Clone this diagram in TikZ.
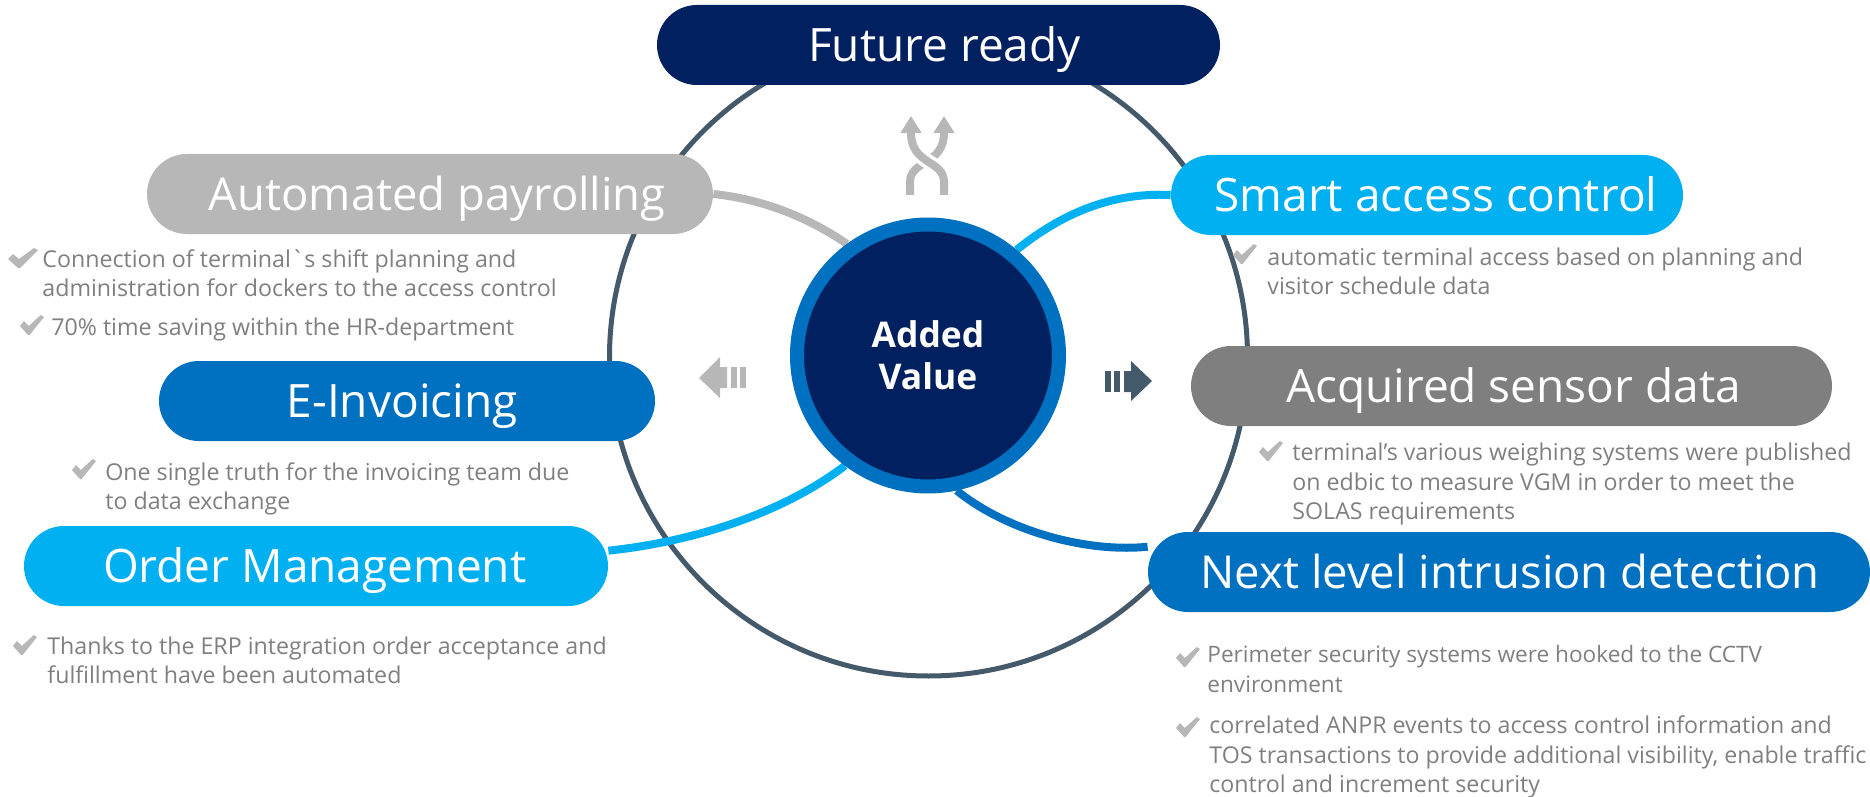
\documentclass[tikz,border=0pt]{standalone}
\usepackage{fontspec}
\setmainfont{Open Sans}
\usetikzlibrary{arrows.meta,backgrounds}
\definecolor{navyblue}{HTML}{002060}
\definecolor{midblue}{HTML}{0070C0}
\definecolor{skyblue}{HTML}{00B0F0}
\definecolor{lightgrey}{HTML}{B7B7B7}
\definecolor{midgrey}{HTML}{7F7F7F}
\definecolor{slategrey}{HTML}{44596A}
% pill title: #1 sideways shift, baseline fixed below the pill's middle
\newcommand{\pillname}[2]{\hspace*{#1}\raisebox{-8.2pt}[0pt][0pt]{#2}\hspace*{-#1}}
\tikzset{
	pill/.style={rectangle,rounded corners=20pt,minimum height=40pt,inner sep=0pt,text=white,text height=0pt,text depth=0pt,font=\fontsize{23}{27}\selectfont},
	note/.style={anchor=west,align=left,inner sep=0pt,text=midgrey,font=\fontsize{11.6}{14.6}\selectfont},
	link/.style={line width=4pt},
	tickmark/.pic={\fill[lightgrey] (-15,1)--(-10,-4)--(-4,1)--(11,-10)--(15,-8)--(-3,10)--(-5,10)--cycle;}
}
\begin{document}
\begin{tikzpicture}[x=0.5pt,y=-0.5pt,line join=miter,>=stealth]
	\useasboundingbox (0,0) rectangle (1870,797);
	% pills
	\node[pill,fill=navyblue,minimum width=281.5pt] (future) at (938.5,45) {\pillname{3pt}{Future ready}};
	\node[pill,fill=lightgrey,minimum width=283pt,font=\fontsize{22.7}{27}\selectfont] (payroll) at (430,194) {\pillname{3.6pt}{Automated payrolling}};
	\node[pill,fill=skyblue,minimum width=256pt] (smart) at (1427,195) {\pillname{4.5pt}{Smart access control}};
	\node[pill,fill=midblue,minimum width=248pt] (invoice) at (407,401) {\pillname{-2.4pt}{E-Invoicing}};
	\node[pill,fill=midgrey,minimum width=320.5pt] (sensor) at (1511.5,386) {\pillname{1pt}{Acquired sensor data}};
	\node[pill,fill=skyblue,minimum width=292pt] (order) at (316,566) {\pillname{-0.6pt}{Order Management}};
	\node[pill,fill=midblue,minimum width=361pt,font=\fontsize{22.7}{27}\selectfont] (intrusion) at (1509,572) {\pillname{0.6pt}{Next level intrusion detection}};
	% centre
	\node[circle,draw=midblue,fill=navyblue,line width=7pt,minimum size=131pt,inner sep=0pt,align=center,text=white,font=\bfseries\fontsize{17.7}{21}\selectfont] (core) at (928,355.5) {Added\\Value};
	\begin{scope}[on background layer]
		\node[circle,draw=slategrey,line width=2.5pt,minimum size=319pt,inner sep=0pt] (ring) at (928.5,357) {};
		\draw[link,lightgrey] (payroll.east) .. controls (770,200) and (815,222) .. (core.126);
		\draw[link,skyblue] (smart.west) .. controls (1110,192) and (1060,215) .. (core.50);
		\draw[link,skyblue] (order.3.5) .. controls (690,542) and (780,515) .. (core.233);
		\draw[link,midblue] (intrusion.176) .. controls (1085,553) and (1005,530) .. (core.282);
	\end{scope}
	% notes
	\pic at (23,258) {tickmark};
	\node[note] (notepayrolla) at (42,273) {Connection of terminal\textasciigrave s shift planning and\\administration for dockers to the access control};
	\pic[xscale=.8] at (32,325) {tickmark};
	\node[note] (notepayrollb) at (51,329) {70\% time saving within the HR-department};
	\pic[xscale=.8] at (1245,254) {tickmark};
	\node[note] (notesmart) at (1267,271) {automatic terminal access based on planning and\\visitor schedule data};
	\pic[xscale=.8] at (84,469) {tickmark};
	\node[note] (noteinvoice) at (105,489) {One single truth for the invoicing team due\\to data exchange};
	\pic[xscale=.8] at (1271,451) {tickmark};
	\node[note] (notesensor) at (1292,484) {terminal’s various weighing systems were published\\on edbic to measure VGM in order to meet the\\SOLAS requirements};
	\pic[xscale=.8] at (25,645) {tickmark};
	\node[note] (noteorder) at (47,660) {Thanks to the ERP integration order acceptance and\\fulfillment have been automated};
	\pic[xscale=.8] at (1188,657) {tickmark};
	\node[note,font=\fontsize{11.3}{14.6}\selectfont] (noteintrusiona) at (1207,669) {Perimeter security systems were hooked to the CCTV\\environment};
	\pic[xscale=.8] at (1188,727) {tickmark};
	\node[note] (noteintrusionb) at (1209,757) {correlated ANPR events to access control information and\\TOS transactions to provide additional visibility, enable traffic\\control and increment security};
	% crossing arrows
	\draw[lightgrey,line width=4pt,-{Triangle[width=10pt,length=8.5pt]}] (910,195)--(910,182) .. controls (910,160) and (944,165) .. (944,133)--(944,116);
	\draw[white,line width=7.5pt] (944,195)--(944,182) .. controls (944,160) and (911,165) .. (911,133);
	\draw[lightgrey,line width=4pt,-{Triangle[width=10pt,length=8.5pt]}] (944,195)--(944,182) .. controls (944,160) and (911,165) .. (911,133)--(911,116);
	% side arrows
	\fill[lightgrey] (699,378)--(720,357)--(720,367)--(727,367)--(727,388)--(720,388)--(720,398)--cycle;
	\foreach \x in {731,740}
	\fill[lightgrey] (\x,367) rectangle (\x+6,388);
	\fill[slategrey] (1152,381)--(1131,361)--(1131,371)--(1124,371)--(1124,392)--(1131,392)--(1131,401)--cycle;
	\foreach \x in {1105,1114}
	\fill[slategrey] (\x,371) rectangle (\x+6,392);
\end{tikzpicture}
\end{document}
